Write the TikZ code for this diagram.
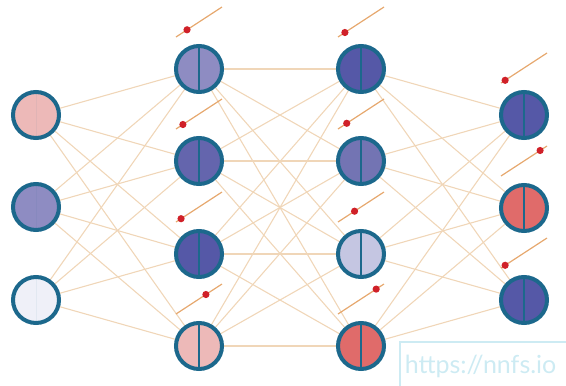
\documentclass[tikz,border=0pt]{standalone}
\usepackage{fontspec}
\newfontfamily\wmfont{Lato}
\usetikzlibrary{backgrounds,calc}

\definecolor{ring}{RGB}{28,104,140}
\definecolor{wire}{RGB}{240,214,184}
\definecolor{biasline}{RGB}{230,168,110}
\definecolor{biasdot}{RGB}{208,32,40}
\definecolor{pinkn}{RGB}{237,185,184}
\definecolor{lavn}{RGB}{142,140,194}
\definecolor{palen}{RGB}{239,240,248}
\definecolor{midn}{RGB}{100,101,173}
\definecolor{deepn}{RGB}{85,88,167}
\definecolor{softn}{RGB}{115,116,179}
\definecolor{lilacn}{RGB}{197,198,226}
\definecolor{redn}{RGB}{224,107,106}
\definecolor{wmark}{RGB}{205,235,243}

\tikzset{
  neuron/.style={circle, draw=ring, line width=4pt, minimum size=46pt, inner sep=0pt},
  split/.style={neuron, path picture={\draw[line width=2.8pt, ring]
      (path picture bounding box.north) -- (path picture bounding box.south);}},
  faint/.style={neuron, path picture={\draw[line width=1pt, ring, opacity=0.06]
      (path picture bounding box.north) -- (path picture bounding box.south);}},
  link/.style={wire, line width=1.1pt},
  biasstick/.style={biasline, line width=1.2pt},
}

\begin{document}
\begin{tikzpicture}[x=1pt, y=-1pt]
  \useasboundingbox (0,0) rectangle (566,386);
  % input layer
  \node[faint, fill=pinkn] (in1) at (36,115) {};
  \node[faint, fill=lavn] (in2) at (36,207) {};
  \node[faint, fill=palen] (in3) at (36,300) {};
  % first hidden layer
  \node[split, fill=lavn] (ha1) at (199,69) {};
  \node[split, fill=midn] (ha2) at (199,161) {};
  \node[split, fill=deepn] (ha3) at (199,254) {};
  \node[split, fill=pinkn] (ha4) at (199,346) {};
  % second hidden layer
  \node[split, fill=deepn] (hb1) at (361,69) {};
  \node[split, fill=softn] (hb2) at (361,161) {};
  \node[split, fill=lilacn] (hb3) at (361,254) {};
  \node[split, fill=redn] (hb4) at (361,346) {};
  % output layer
  \node[split, fill=deepn] (out1) at (524,115) {};
  \node[split, fill=redn] (out2) at (524,208) {};
  \node[split, fill=deepn] (out3) at (524,300) {};

  % weights
  \begin{scope}[on background layer]
    \foreach \a in {in1,in2,in3}
      \foreach \b in {ha1,ha2,ha3,ha4}
        \draw[link] (\a.center) -- (\b.center);
    \foreach \a in {ha1,ha2,ha3,ha4}
      \foreach \b in {hb1,hb2,hb3,hb4}
        \draw[link] (\a.center) -- (\b.center);
    \foreach \a in {hb1,hb2,hb3,hb4}
      \foreach \b in {out1,out2,out3}
        \draw[link] (\a.center) -- (\b.center);
  \end{scope}

  % biases
  \foreach \n/\t in {ha1/0.24, ha2/0.15, ha3/0.11, ha4/0.65,
                     hb1/0.15, hb2/0.19, hb3/0.36, hb4/0.83,
                     out1/0.09, out2/0.85, out3/0.09} {
    \coordinate (\n-lo) at ([shift={(-23,-32)}]\n.center);
    \coordinate (\n-hi) at ([shift={(23,-62)}]\n.center);
    \draw[biasstick] (\n-lo) -- (\n-hi);
    \fill[biasdot] ($(\n-lo)!\t!(\n-hi)$) circle (3.6pt);
  }

  % watermark
  \node[draw=wmark, line width=1.5pt, anchor=north west, minimum width=175pt,
        minimum height=50pt, text=wmark, font=\wmfont\fontsize{25}{28}\selectfont,
        inner xsep=5pt, align=left, text width=165pt] (mark) at (399,341) {https://nnfs.io};
\end{tikzpicture}
\end{document}
